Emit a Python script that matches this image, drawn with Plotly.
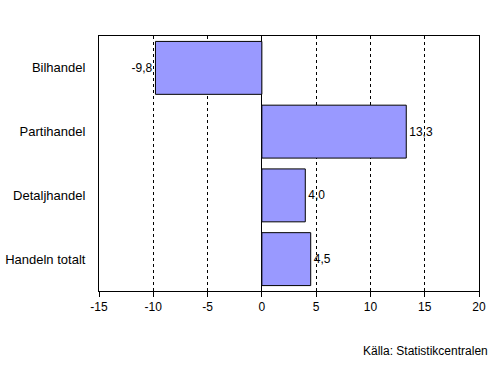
import plotly.graph_objects as go

categories = ["Bilhandel", "Partihandel", "Detaljhandel", "Handeln totalt"]
values = [-9.8, 13.3, 4.0, 4.5]
labels = ["-9,8", "13,3", "4,0", "4,5"]
x_ticks = [-15, -10, -5, 0, 5, 10, 15, 20]

FONT = "Liberation Sans, Arial, sans-serif"

fig = go.Figure(go.Bar(
    y=categories, x=values, orientation="h",
    marker=dict(color="#9999FF", line=dict(color="black", width=1)),
    text=labels, textposition="outside", cliponaxis=False,
    textfont=dict(family=FONT, size=12, color="black"),
    width=0.83,
))

fig.update_layout(
    width=503, height=370,
    margin=dict(l=99, r=24, t=36, b=79, autoexpand=False),
    plot_bgcolor="white", paper_bgcolor="white",
    font=dict(family=FONT, size=12, color="black"),
    showlegend=False,
    xaxis=dict(
        range=[-15, 20], tickvals=x_ticks, ticktext=[str(v) for v in x_ticks],
        showgrid=True, gridcolor="black", gridwidth=1, griddash="3px,3px",
        zeroline=True, zerolinecolor="black", zerolinewidth=1,
        showline=True, linecolor="black", linewidth=1, mirror=True,
        ticks="outside", ticklen=5, tickcolor="black",
        tickfont=dict(size=12), fixedrange=True,
    ),
    yaxis=dict(
        categoryorder="array", categoryarray=categories[::-1],
        showline=True, linecolor="black", linewidth=1, mirror=True,
        ticks="", ticklabelstandoff=10,
        tickfont=dict(size=13), showgrid=False, fixedrange=True,
    ),
    annotations=[dict(
        text="Källa: Statistikcentralen", xref="paper", yref="paper",
        x=1.03, y=-0.2, xanchor="right", yanchor="top", showarrow=False,
        font=dict(size=12),
    )],
)

fig.write_html("out.html", config={"displayModeBar": False},
               post_script="document.body.style.margin='0';")
